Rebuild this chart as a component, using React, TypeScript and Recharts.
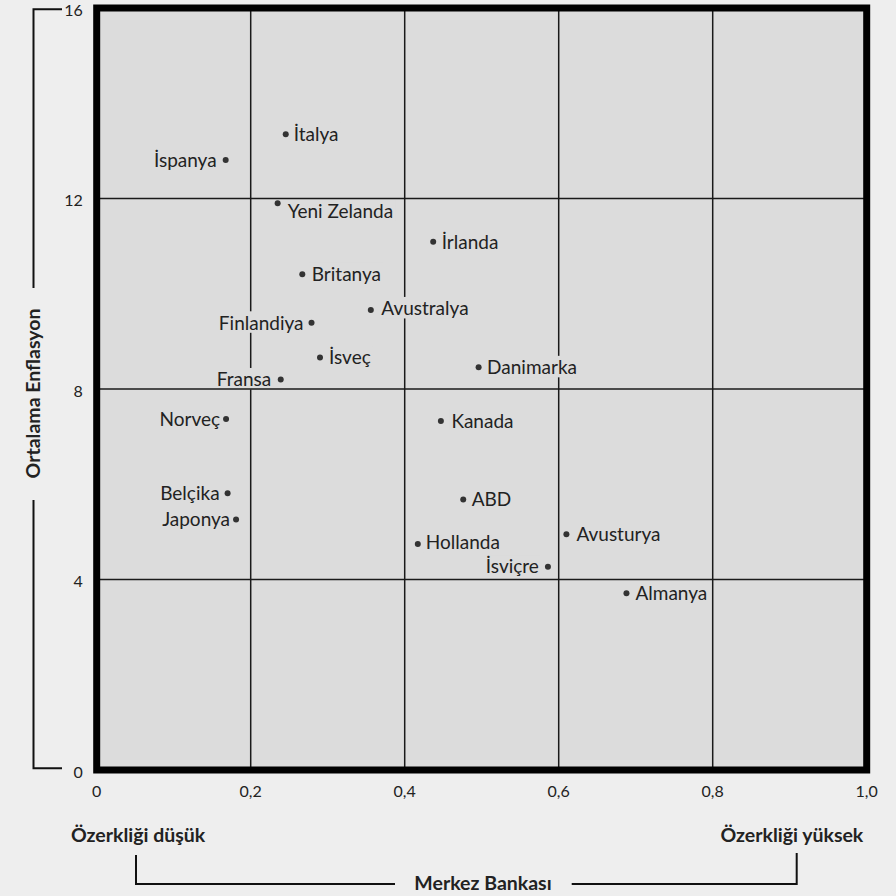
import React from 'react';
import { ScatterChart, Scatter, XAxis, YAxis, CartesianGrid, ReferenceArea, ReferenceLine } from 'recharts';

const countries = ['İtalya', 'İspanya', 'Yeni Zelanda', 'İrlanda', 'Britanya', 'Avustralya', 'Finlandiya', 'İsveç', 'Fransa', 'Norveç', 'Kanada', 'Belçika', 'Japonya', 'ABD', 'Hollanda', 'Danimarka', 'Avusturya', 'İsviçre', 'Almanya'];
const independence = [0.2455, 0.1675, 0.235, 0.437, 0.267, 0.356, 0.279, 0.29, 0.239, 0.168, 0.447, 0.17, 0.181, 0.476, 0.417, 0.496, 0.61, 0.586, 0.688];
const inflation = [13.35, 12.81, 11.9, 11.09, 10.41, 9.66, 9.39, 8.66, 8.2, 7.37, 7.33, 5.81, 5.26, 5.68, 4.745, 8.455, 4.95, 4.27, 3.71];
const xTicks = [0, 0.2, 0.4, 0.6, 0.8, 1];
const yTicks = [0, 4, 8, 12, 16];
const innerYLines = [4, 8, 12];

const xTitle = 'Merkez Bankası';
const yTitle = 'Ortalama Enflasyon';
const lowLabel = 'Özerkliği düşük';
const highLabel = 'Özerkliği yüksek';

// label placement (layout config)
const labelPlace: Record<string, { side: 'left' | 'right'; gap: number; dy: number }> = {
  'İtalya': { side: 'right', gap: 8, dy: 0 },
  'İspanya': { side: 'left', gap: 9, dy: 0 },
  'Yeni Zelanda': { side: 'right', gap: 10, dy: 7.5 },
  'İrlanda': { side: 'right', gap: 8.5, dy: 0 },
  'Britanya': { side: 'right', gap: 9.5, dy: 0 },
  'Avustralya': { side: 'right', gap: 10.5, dy: -1.5 },
  'Finlandiya': { side: 'left', gap: 8, dy: 0 },
  'İsveç': { side: 'right', gap: 9, dy: 0 },
  'Fransa': { side: 'left', gap: 9.5, dy: 0 },
  'Norveç': { side: 'left', gap: 6, dy: 0 },
  'Kanada': { side: 'right', gap: 10.5, dy: 0 },
  'Belçika': { side: 'left', gap: 8, dy: 0 },
  'Japonya': { side: 'left', gap: 6, dy: 0 },
  'ABD': { side: 'right', gap: 8.5, dy: 0 },
  'Hollanda': { side: 'right', gap: 8, dy: -1.5 },
  'Danimarka': { side: 'right', gap: 8.5, dy: 0 },
  'Avusturya': { side: 'right', gap: 10, dy: 0 },
  'İsviçre': { side: 'left', gap: 9, dy: 0 },
  'Almanya': { side: 'right', gap: 9, dy: 0 },
};

const points = countries.map((name, i) => ({ name, x: independence[i], y: inflation[i] }));

const FONT = 'Lato';
const LABEL_FS = 19;
const TITLE_FS = 19.5;
const PLOT_BG = '#dcdcdc';
const PAGE_BG = '#eeeeee';
const INK = '#222222';

let ctx: CanvasRenderingContext2D | null = null;
function measure(t: string): number {
  if (!ctx) {
    const c = document.createElement('canvas');
    ctx = c.getContext('2d');
  }
  if (!ctx) return t.length * LABEL_FS * 0.52;
  ctx.font = `${LABEL_FS}px ${FONT}`;
  return ctx.measureText(t).width;
}

const DotLabel = (props: any) => {
  const { cx, cy, payload } = props;
  const name: string = payload.name;
  const p = labelPlace[name] || { side: 'right', gap: 9, dy: 0 };
  const w = measure(name);
  const tx = p.side === 'right' ? cx + p.gap : cx - p.gap;
  const ty = cy + p.dy;
  const rx = p.side === 'right' ? tx - 2 : tx - w - 2;
  return (
    <g>
      <rect x={rx} y={ty - 11.5} width={w + 4} height={21.5} fill={PLOT_BG} />
      <circle cx={cx} cy={cy} r={3} fill="#333333" />
      <text
        x={tx}
        y={ty + LABEL_FS * 0.36}
        textAnchor={p.side === 'right' ? 'start' : 'end'}
        fontFamily={FONT}
        fontSize={LABEL_FS}
        fill={INK}
      >
        {name}
      </text>
    </g>
  );
};

const fmtX = (v: number) => (v === 0 ? '0' : v.toFixed(1).replace('.', ','));
const fmtY = (v: number) => String(v);

export default function App() {
  const tickStyle = { fontSize: 16, fill: INK, fontFamily: FONT };
  const yTickStyle = { fontSize: 16, fill: INK, fontFamily: FONT, dy: 2 };
  return (
    <div style={{ position: 'absolute', left: 0, top: 0, width: 896, height: 896, background: PAGE_BG, fontFamily: FONT }}>
      <ScatterChart width={896} height={896} margin={{ top: 8, right: 29.3, bottom: 0, left: 0 }}>
        <CartesianGrid fill={PLOT_BG} stroke="#1a1a1a" strokeWidth={1.5} horizontal={false} />
        <XAxis
          type="number"
          dataKey="x"
          domain={[0, 1]}
          ticks={xTicks}
          tickFormatter={fmtX}
          axisLine={false}
          tickLine={false}
          tickSize={0}
          tickMargin={16}
          height={126}
          tick={tickStyle}
          interval={0}
        />
        <YAxis
          type="number"
          dataKey="y"
          domain={[0, 16]}
          ticks={yTicks}
          tickFormatter={fmtY}
          axisLine={false}
          tickLine={false}
          tickSize={0}
          tickMargin={14}
          width={96.7}
          tick={yTickStyle}
          interval={0}
        />
        <Scatter data={points} isAnimationActive={false} shape={DotLabel} />
        {innerYLines.map((v) => (
          <ReferenceLine key={v} y={v} stroke="#1a1a1a" strokeWidth={1.5} zIndex={2000} />
        ))}
        <ReferenceArea x1={0} x2={1} y1={0} y2={16} fill="none" stroke="#000000" strokeWidth={7} ifOverflow="visible" zIndex={2100} />
      </ScatterChart>
      <svg width={896} height={896} style={{ position: 'absolute', left: 0, top: 0, pointerEvents: 'none' }}>
        <g stroke="#111111" strokeWidth={2} fill="none">
          <polyline points="62,9.3 33.5,9.3 33.5,288" />
          <polyline points="33.5,500 33.5,768.3 62,768.3" />
          <polyline points="136,855 136,884 395,884" />
          <polyline points="571.7,884 796.7,884 796.7,853" />
        </g>
        <text
          transform="translate(40,393.5) rotate(-90)"
          textAnchor="middle"
          fontFamily={FONT}
          fontWeight={700}
          fontSize={TITLE_FS}
          fill={INK}
        >
          {yTitle}
        </text>
        <text x={483} y={890} textAnchor="middle" fontFamily={FONT} fontWeight={700} fontSize={TITLE_FS} fill={INK}>
          {xTitle}
        </text>
        <text x={71} y={841.7} textAnchor="start" fontFamily={FONT} fontWeight={700} fontSize={TITLE_FS} fill={INK}>
          {lowLabel}
        </text>
        <text x={863.3} y={841.7} textAnchor="end" fontFamily={FONT} fontWeight={700} fontSize={TITLE_FS} fill={INK}>
          {highLabel}
        </text>
      </svg>
    </div>
  );
}
